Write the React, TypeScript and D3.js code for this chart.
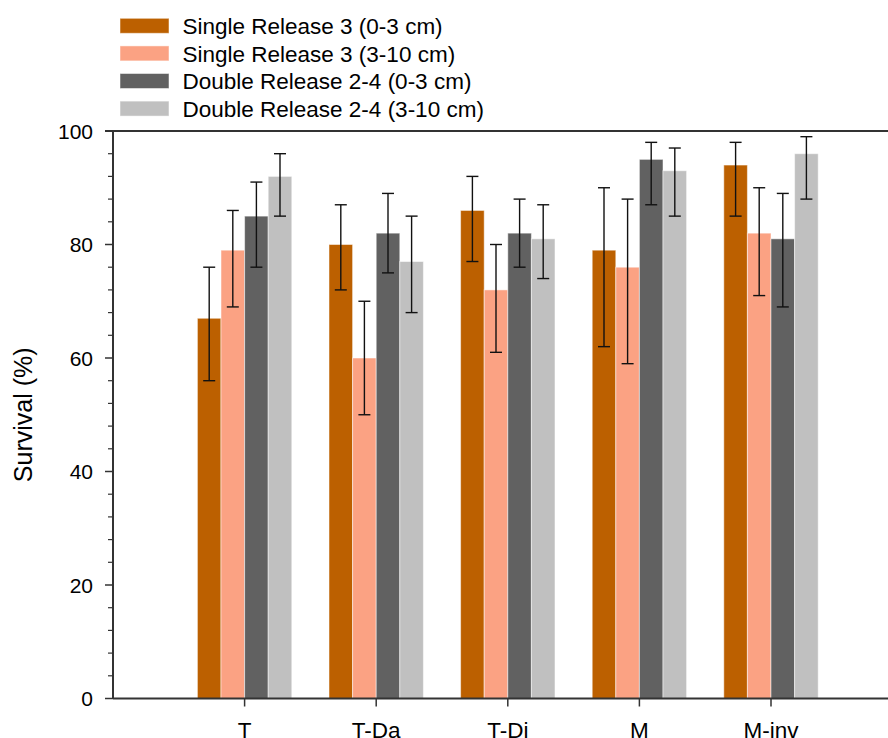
import React from "react";
import * as d3 from "d3";

const categories = ["T", "T-Da", "T-Di", "M", "M-inv"];
const seriesNames = [
  "Single Release 3 (0-3 cm)",
  "Single Release 3 (3-10 cm)",
  "Double Release 2-4 (0-3 cm)",
  "Double Release 2-4 (3-10 cm)",
];
const seriesColors = ["#BC6000", "#FBA283", "#616161", "#C0C0C0"];
const sr0_3 = [67, 80, 86, 79, 94];
const sr3_10 = [79, 60, 72, 76, 82];
const dr0_3 = [85, 82, 82, 95, 81];
const dr3_10 = [92, 77, 81, 93, 96];
const sr0_3Err = [[56, 76], [72, 87], [77, 92], [62, 90], [85, 98]];
const sr3_10Err = [[69, 86], [50, 70], [61, 80], [59, 88], [71, 90]];
const dr0_3Err = [[76, 91], [75, 89], [76, 88], [87, 98], [69, 89]];
const dr3_10Err = [[85, 96], [68, 85], [74, 87], [85, 97], [88, 99]];
const yTicks = [0, 20, 40, 60, 80, 100];

const W = 888;
const H = 738;
const FONT = "'Liberation Sans', Arial, sans-serif";

export default function App() {
  const series = [sr0_3, sr3_10, dr0_3, dr3_10];
  const errs = [sr0_3Err, sr3_10Err, dr0_3Err, dr3_10Err];
  const left = 113;
  const top = 131;
  const bottom = 698.5;
  const x = d3.scaleLinear().domain([0, 6]).range([left, left + 6 * 131.6]);
  const y = d3.scaleLinear().domain([0, 100]).range([bottom, top]);
  const barW = 23.6;
  const minorTicks = d3.range(0, 101, 4).filter((v) => v % 20 !== 0);

  return (
    <div style={{ position: "absolute", left: 0, top: 0 }}>
      <svg width={W} height={H} style={{ display: "block", fontFamily: FONT }}>
        <rect x={0} y={0} width={W} height={H} fill="white" />
        {series.map((vals, si) =>
          vals.map((v, ci) => {
            const cx = x(ci + 1) + (si - 1.5) * barW;
            return (
              <rect
                key={`b${si}-${ci}`}
                x={cx - barW / 2}
                y={y(v)}
                width={barW}
                height={y(0) - y(v)}
                fill={seriesColors[si]}
                stroke="white"
                strokeOpacity={0.5}
                strokeWidth={1}
              />
            );
          })
        )}
        {errs.map((es, si) =>
          es.map(([lo, hi], ci) => {
            const cx = x(ci + 1) + (si - 1.5) * barW;
            return (
              <g key={`e${si}-${ci}`} stroke="#111" strokeWidth={1.4}>
                <line x1={cx} x2={cx} y1={y(lo)} y2={y(hi)} />
                <line x1={cx - 6} x2={cx + 6} y1={y(lo)} y2={y(lo)} />
                <line x1={cx - 6} x2={cx + 6} y1={y(hi)} y2={y(hi)} />
              </g>
            );
          })
        )}
        <line x1={left - 8} x2={x(6)} y1={top} y2={top} stroke="#333" strokeWidth={2} />
        <line x1={x(6)} x2={x(6)} y1={top} y2={bottom} stroke="#333" strokeWidth={2} />
        <line x1={left} x2={x(6)} y1={bottom} y2={bottom} stroke="#333" strokeWidth={2} />
        <line x1={left} x2={left} y1={top} y2={bottom} stroke="#333" strokeWidth={2} />
        {yTicks.map((t) => (
          <g key={`yt${t}`}>
            <line x1={left - 8} x2={left} y1={y(t)} y2={y(t)} stroke="#333" strokeWidth={1.5} />
            <text x={left - 20} y={y(t)} dy="0.36em" textAnchor="end" fontSize={21} fill="#000">
              {t}
            </text>
          </g>
        ))}
        {minorTicks.map((t) => (
          <line key={`mt${t}`} x1={left - 5} x2={left} y1={y(t)} y2={y(t)} stroke="#333" strokeWidth={1.2} />
        ))}
        {categories.map((c, i) => (
          <g key={`xt${c}`}>
            <line x1={x(i + 1)} x2={x(i + 1)} y1={bottom} y2={bottom + 8} stroke="#333" strokeWidth={1.5} />
            <text x={x(i + 1)} y={738} textAnchor="middle" fontSize={22.5} fill="#000">
              {c}
            </text>
          </g>
        ))}
        <text
          transform={`translate(31.5, ${(top + bottom) / 2}) rotate(-90)`}
          textAnchor="middle"
          fontSize={25}
          fill="#000"
        >
          Survival (%)
        </text>
        {seriesNames.map((n, i) => {
          const cy = 25.8 + i * 27.6;
          return (
            <g key={`lg${i}`}>
              <rect x={120} y={cy - 7.5} width={49} height={15} fill={seriesColors[i]} stroke="white" strokeOpacity={0.5} />
              <text x={182.5} y={cy} dy="0.36em" fontSize={22.5} fill="#000">
                {n}
              </text>
            </g>
          );
        })}
      </svg>
    </div>
  );
}
